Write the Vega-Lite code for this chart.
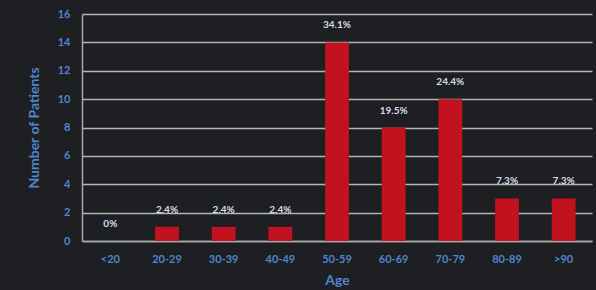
{
  "$schema": "https://vega.github.io/schema/vega-lite/v6.json",
  "width": 510,
  "height": 227,
  "autosize": "none",
  "padding": {"left": 82, "top": 14, "right": 4, "bottom": 49},
  "background": "#1d1f22",
  "config": {"view": {"stroke": null}, "font": "Lato"},
  "data": {"values": [
    {"age": "<20", "patients": 0, "pct": "0%"},
    {"age": "20-29", "patients": 1, "pct": "2.4%"},
    {"age": "30-39", "patients": 1, "pct": "2.4%"},
    {"age": "40-49", "patients": 1, "pct": "2.4%"},
    {"age": "50-59", "patients": 14, "pct": "34.1%"},
    {"age": "60-69", "patients": 8, "pct": "19.5%"},
    {"age": "70-79", "patients": 10, "pct": "24.4%"},
    {"age": "80-89", "patients": 3, "pct": "7.3%"},
    {"age": ">90", "patients": 3, "pct": "7.3%"}
  ]},
  "layer": [
    {"mark": {"type": "bar", "color": "#c3121f"},
     "encoding": {
      "x": {"field": "age", "type": "nominal", "sort": null,
        "scale": {"paddingInner": 0.58, "paddingOuter": 0.29},
        "axis": {"title": "Age", "labelAngle": 0, "labelColor": "#4f86cc", "labelFontSize": 11, "labelFontWeight": "bold",
          "titleColor": "#4f86cc", "titleFontSize": 14, "titleFontWeight": "bold", "titlePadding": 9,
          "ticks": false, "labelPadding": 12, "domainColor": "#a8a8a8", "domainWidth": 1.5}},
      "y": {"field": "patients", "type": "quantitative",
        "scale": {"domain": [0, 16]},
        "axis": {"title": "Number of Patients", "tickCount": 8, "labelColor": "#4f86cc", "labelFontSize": 11, "labelFontWeight": "bold",
          "titleColor": "#4f86cc", "titleFontSize": 14, "titleFontWeight": "bold", "titlePadding": 16,
          "ticks": false, "labelPadding": 12, "domainColor": "#a8a8a8", "domainWidth": 1.5,
          "grid": true, "gridColor": "#b4b4b4", "gridWidth": 1.5}}
     }},
    {"mark": {"type": "text", "color": "#d8dce8", "fontSize": 10, "fontWeight": "bold", "baseline": "middle", "dy": -17},
      "encoding": {
        "x": {"field": "age", "type": "nominal", "sort": null},
        "y": {"field": "patients", "type": "quantitative"},
        "text": {"field": "pct"}}}
  ]
}
